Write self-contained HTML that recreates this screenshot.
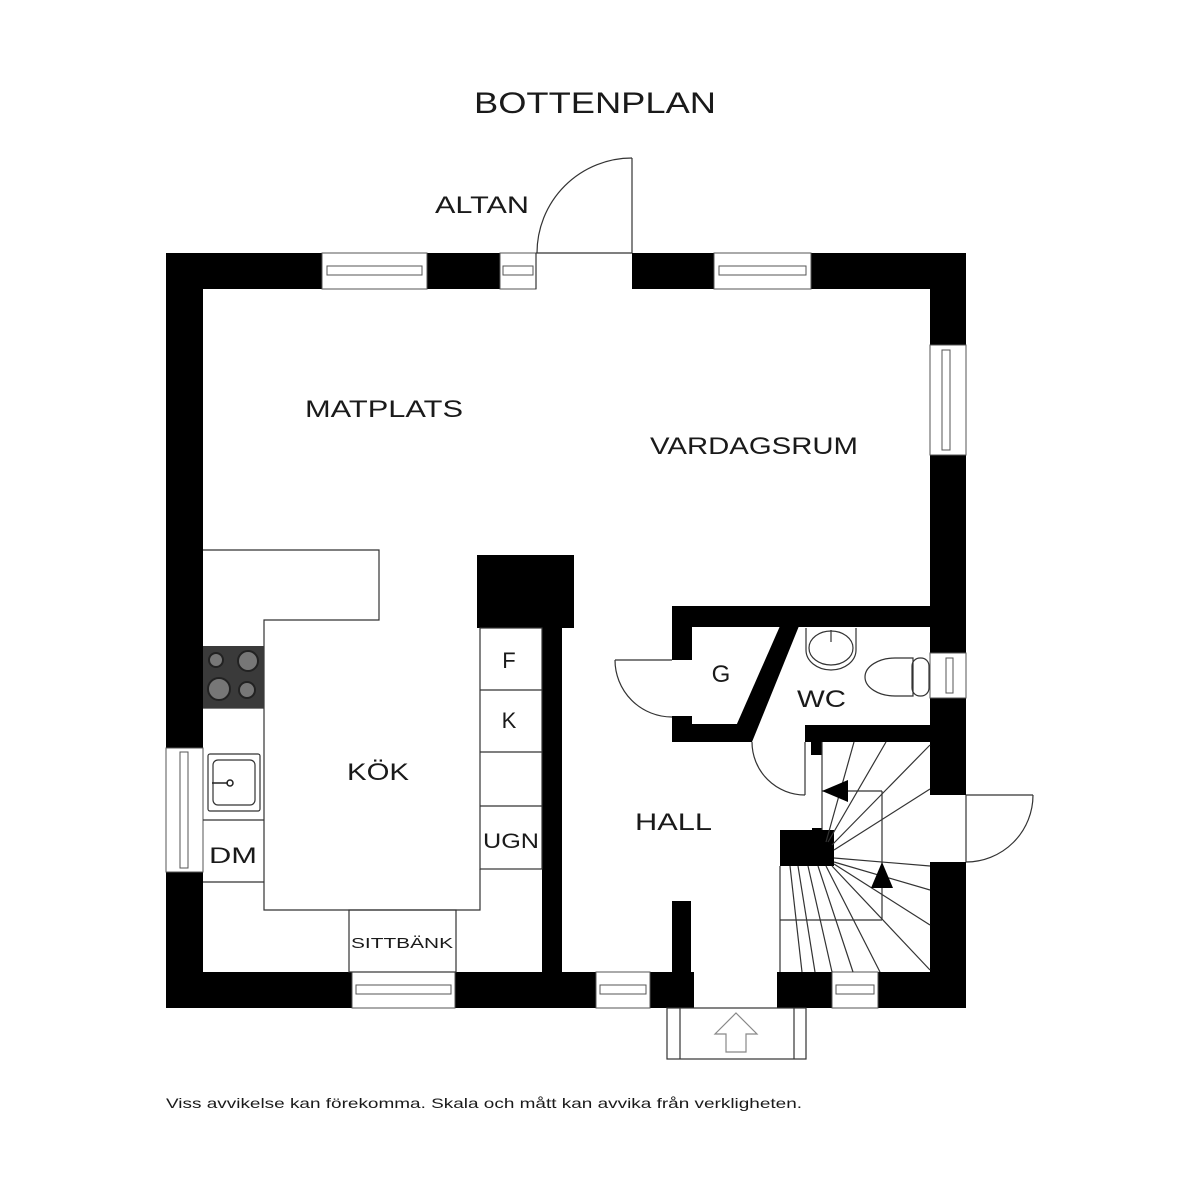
<!DOCTYPE html>
<html><head><meta charset="utf-8"><style>
html,body{margin:0;padding:0;background:#fff;}
svg{display:block;}
text{font-family:"Liberation Sans",sans-serif;fill:#1a1a1a;}
</style></head><body>
<svg width="1200" height="1200" viewBox="0 0 1200 1200" xmlns="http://www.w3.org/2000/svg">
<rect width="1200" height="1200" fill="#fff"/>
<g fill="#000">
<rect x="166" y="253" width="156" height="36"/>
<rect x="427" y="253" width="73" height="36"/>
<rect x="632" y="253" width="82" height="36"/>
<rect x="811" y="253" width="155" height="36"/>
<rect x="166" y="253" width="37" height="495"/>
<rect x="166" y="872" width="37" height="136"/>
<rect x="930" y="253" width="36" height="92"/>
<rect x="930" y="455" width="36" height="198"/>
<rect x="930" y="698" width="36" height="97"/>
<rect x="930" y="862" width="36" height="146"/>
<rect x="166" y="972" width="186" height="36"/>
<rect x="455" y="972" width="141" height="36"/>
<rect x="650" y="972" width="44" height="36"/>
<rect x="777" y="972" width="55" height="36"/>
<rect x="878" y="972" width="88" height="36"/>
<rect x="477" y="555" width="97" height="73"/>
<rect x="542" y="628" width="20" height="344"/>
<rect x="672" y="606" width="258" height="21"/>
<rect x="672" y="606" width="20" height="54"/>
<rect x="672" y="716" width="20" height="26"/>
<rect x="672" y="724" width="80" height="18"/>
<polygon points="780,626 799,626 752,742 729,742"/>
<rect x="805" y="725" width="125" height="17"/>
<rect x="811" y="742" width="11" height="13"/>
<rect x="672" y="901" width="19" height="71"/>
<rect x="780" y="830" width="54" height="36"/>
<rect x="812" y="828" width="10" height="4"/>
</g>
<g fill="#fff" stroke="#555" stroke-width="1">
<rect x="322" y="253" width="105" height="36"/>
<rect x="327" y="266" width="95" height="9"/>
<rect x="500" y="253" width="36" height="36"/>
<rect x="503" y="266" width="30" height="9"/>
<rect x="714" y="253" width="97" height="36"/>
<rect x="719" y="266" width="87" height="9"/>
<rect x="930" y="345" width="36" height="110"/>
<rect x="942" y="350" width="8" height="100"/>
<rect x="930" y="653" width="36" height="45"/>
<rect x="946" y="658" width="7" height="35"/>
<rect x="166" y="748" width="37" height="124"/>
<rect x="180" y="752" width="8" height="116"/>
<rect x="352" y="972" width="103" height="36"/>
<rect x="356" y="985" width="95" height="9"/>
<rect x="596" y="972" width="54" height="36"/>
<rect x="600" y="985" width="46" height="9"/>
<rect x="832" y="972" width="46" height="36"/>
<rect x="836" y="985" width="38" height="9"/>
</g>
<g fill="none" stroke="#333" stroke-width="1.2">
<line x1="536" y1="253" x2="632" y2="253"/>
<line x1="632" y1="158" x2="632" y2="253"/>
<path d="M632,158 A95,95 0 0 0 537,253"/>
<line x1="536" y1="253" x2="536" y2="289"/>
<line x1="966" y1="795" x2="1033" y2="795"/>
<path d="M1033,795 A67,67 0 0 1 966,862"/>
<line x1="966" y1="795" x2="966" y2="862"/>
<line x1="615" y1="660" x2="672" y2="660"/>
<path d="M615,660 A57,57 0 0 0 672,717"/>
<line x1="805" y1="742" x2="805" y2="795"/>
<path d="M752,742 A53,53 0 0 0 805,795"/>
<polyline points="203,550 379,550 379,620 264,620 264,910 480,910 480,869"/>
<line x1="203" y1="708" x2="264" y2="708"/>
<line x1="203" y1="820" x2="264" y2="820"/>
<line x1="203" y1="882" x2="264" y2="882"/>
<rect x="480" y="628" width="62" height="241"/>
<line x1="480" y1="690" x2="542" y2="690"/>
<line x1="480" y1="752" x2="542" y2="752"/>
<line x1="480" y1="806" x2="542" y2="806"/>
<rect x="349" y="910" width="107" height="62"/>
<rect x="208" y="754" width="52" height="57" rx="2"/>
<rect x="213" y="760" width="42" height="45" rx="5"/>
<rect x="667" y="1008" width="139" height="51"/>
<line x1="680" y1="1008" x2="680" y2="1059"/>
<line x1="794" y1="1008" x2="794" y2="1059"/>
<polygon points="736,1013 757,1034 746,1034 746,1052 726,1052 726,1034 715,1034" stroke="#888"/>
<path d="M806,628 L806,650 A25,20 0 0 0 856,650 L856,628"/>
<ellipse cx="831" cy="648" rx="22" ry="17"/>
<line x1="831" y1="630" x2="831" y2="642"/>
<path d="M913,658 L895,658 A30,19 0 0 0 895,696 L913,696 Z"/>
<rect x="912" y="658" width="17" height="38" rx="8"/>
<line x1="780" y1="866" x2="780" y2="972"/>
<line x1="822" y1="742" x2="822" y2="830"/>
<line x1="822" y1="791" x2="882" y2="791"/>
<line x1="882" y1="791" x2="882" y2="920"/>
<line x1="780" y1="920" x2="882" y2="920"/>
<line x1="826" y1="842" x2="854" y2="742"/>
<line x1="828" y1="842" x2="886" y2="742"/>
<line x1="832" y1="845" x2="930" y2="745"/>
<line x1="834" y1="850" x2="930" y2="789"/>
<line x1="834" y1="858" x2="930" y2="866"/>
<line x1="834" y1="862" x2="930" y2="890"/>
<line x1="834" y1="864" x2="930" y2="925"/>
<line x1="832" y1="866" x2="930" y2="970"/>
<line x1="826" y1="866" x2="880" y2="972"/>
<line x1="818" y1="866" x2="853" y2="972"/>
<line x1="808" y1="866" x2="832" y2="972"/>
<line x1="798" y1="866" x2="815" y2="972"/>
<line x1="790" y1="866" x2="802" y2="972"/>
</g>
<polygon points="822,791 848,780 848,802" fill="#000"/>
<polygon points="882,862 871,888 893,888" fill="#000"/>
<rect x="203" y="646" width="61" height="62" fill="#3a3a3a"/>
<g fill="#777" stroke="#222" stroke-width="2">
<circle cx="216" cy="660" r="7"/><circle cx="248" cy="661" r="10"/>
<circle cx="219" cy="689" r="11"/><circle cx="247" cy="690" r="8"/>
</g>
<circle cx="230" cy="783" r="3" fill="none" stroke="#222" stroke-width="1.5"/>
<line x1="212" y1="783" x2="228" y2="783" stroke="#222" stroke-width="1.5"/>
<text x="474" y="113" font-size="30" textLength="242" lengthAdjust="spacingAndGlyphs">BOTTENPLAN</text>
<text x="435" y="213" font-size="24" textLength="94" lengthAdjust="spacingAndGlyphs">ALTAN</text>
<text x="305" y="417" font-size="24" textLength="158" lengthAdjust="spacingAndGlyphs">MATPLATS</text>
<text x="650" y="454" font-size="24" textLength="208" lengthAdjust="spacingAndGlyphs">VARDAGSRUM</text>
<text x="347" y="780" font-size="24" textLength="62" lengthAdjust="spacingAndGlyphs">KÖK</text>
<text x="635" y="830" font-size="24" textLength="77" lengthAdjust="spacingAndGlyphs">HALL</text>
<text x="721" y="682" font-size="24" text-anchor="middle">G</text>
<text x="797" y="707" font-size="24" textLength="49" lengthAdjust="spacingAndGlyphs">WC</text>
<text x="509" y="668" font-size="22" text-anchor="middle">F</text>
<text x="509" y="728" font-size="22" text-anchor="middle">K</text>
<text x="483" y="848" font-size="21" textLength="56" lengthAdjust="spacingAndGlyphs">UGN</text>
<text x="209" y="863" font-size="22" textLength="48" lengthAdjust="spacingAndGlyphs">DM</text>
<text x="351" y="948" font-size="15" textLength="102" lengthAdjust="spacingAndGlyphs">SITTBÄNK</text>
<text x="166" y="1108" font-size="14" textLength="636" lengthAdjust="spacingAndGlyphs">Viss avvikelse kan förekomma. Skala och mått kan avvika från verkligheten.</text>
</svg>
</body></html>
